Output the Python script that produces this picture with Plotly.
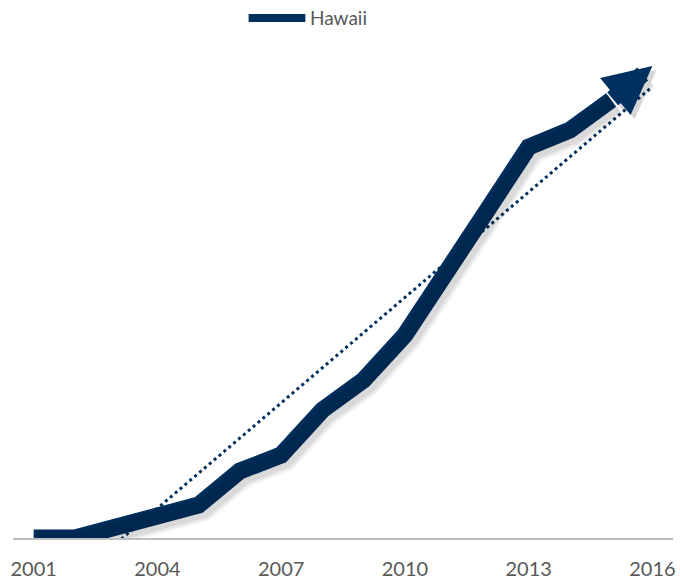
import numpy as np
import plotly.graph_objects as go

# ---- data ----
years = list(range(2001, 2017))
values = [0, 0, 11, 22, 33, 67, 83, 128, 158, 203, 263, 328, 391, 408, 438, 472]
tick_years = [2001, 2004, 2007, 2010, 2013, 2016]
series_name = "Hawaii"

NAVY = "#00305e"
GRAY_TXT = "#595959"

# linear trend line derived from the data
slope, intercept = np.polyfit(years, values, 1)
trend = [slope * y + intercept for y in years]

fig = go.Figure()

# soft drop shadow (same data drawn on slightly offset overlay axes)
for w, a in [(26, 0.045), (22, 0.05), (18, 0.06)]:
    fig.add_trace(go.Scatter(x=years[:-1], y=values[:-1], mode="lines",
                             line=dict(color=f"rgba(0,0,0,{a})", width=w),
                             xaxis="x2", yaxis="y2", hoverinfo="skip",
                             showlegend=False))
    fig.add_annotation(x=years[-1], y=values[-1], ax=years[-2], ay=values[-2],
                       xref="x2", yref="y2", axref="x2", ayref="y2",
                       text="", showarrow=True, arrowhead=2,
                       arrowwidth=w, arrowsize=9.6 / w,
                       arrowcolor=f"rgba(0,0,0,{a})", standoff=0)

# dotted trend line
fig.add_trace(go.Scatter(x=years, y=trend, mode="lines",
                         line=dict(color=NAVY, width=3, dash="3px,3.4px"),
                         showlegend=False, hoverinfo="skip"))

# main series
fig.add_trace(go.Scatter(x=years[:-1], y=values[:-1], mode="lines",
                         name=series_name,
                         line=dict(color=NAVY, width=17),
                         showlegend=False))

# arrow for the last segment
fig.add_annotation(x=years[-1], y=values[-1], ax=years[-2], ay=values[-2],
                   xref="x", yref="y", axref="x", ayref="y",
                   text="", showarrow=True, arrowhead=2,
                   arrowwidth=17, arrowsize=9.6 / 17,
                   arrowcolor=NAVY, standoff=0)

# legend (drawn manually)
fig.add_shape(type="line", xref="paper", yref="paper",
              x0=0.357, x1=0.443, y0=1.04, y1=1.04,
              line=dict(color=NAVY, width=8))
fig.add_annotation(xref="paper", yref="paper", x=0.447, y=1.04,
                   text=series_name, showarrow=False, xanchor="left",
                   yanchor="middle",
                   font=dict(family="Lato, Open Sans, sans-serif", size=19,
                             color=GRAY_TXT))

px_per_year = 660 / 16
dx = 4 / px_per_year
fig.update_layout(
    width=680, height=580,
    margin=dict(l=13, r=7, t=38, b=42, autoexpand=False),
    paper_bgcolor="white", plot_bgcolor="white",
    showlegend=False,
    xaxis=dict(range=[2000.5, 2016.5], tickvals=tick_years,
               ticktext=[str(t) for t in tick_years],
               showgrid=False, zeroline=False, automargin=False,
               showline=True, linecolor="#bfbfbf", linewidth=1.5,
               ticks="outside", ticklen=12, tickcolor="rgba(0,0,0,0)",
               tickfont=dict(family="Lato, Open Sans, sans-serif", size=20,
                             color=GRAY_TXT)),
    yaxis=dict(range=[0, 500], visible=False, showgrid=False),
    xaxis2=dict(range=[2000.5 - dx, 2016.5 - dx], overlaying="x",
                visible=False, showgrid=False),
    yaxis2=dict(range=[4, 504], overlaying="y", visible=False,
                showgrid=False),
)

fig.write_html("out.html")
